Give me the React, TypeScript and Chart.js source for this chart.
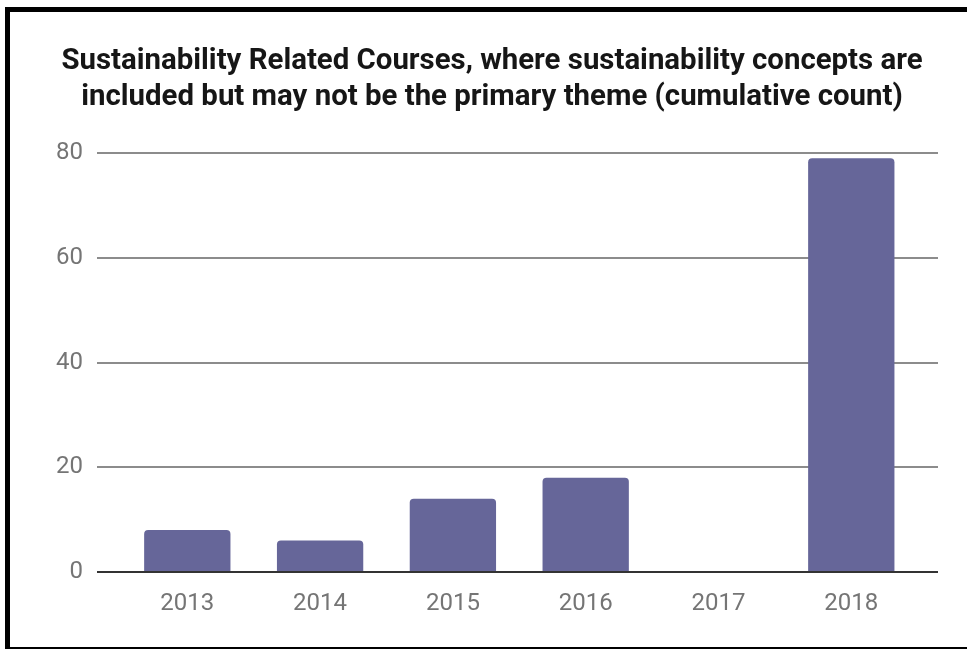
import React, { useEffect, useRef } from "react";
import { Chart, registerables } from "chart.js";

Chart.register(...registerables);

const TITLE_LINES = [
  "Sustainability Related Courses, where sustainability concepts are",
  "included but may not be the primary theme (cumulative count)",
];
const YEARS = ["2013", "2014", "2015", "2016", "2017", "2018"];
const COUNTS = [8, 6, 14, 18, 0, 79];
const Y_MIN = 0;
const Y_MAX = 80;
const Y_STEP = 20;

const BAR_COLOR = "#666699";
const GRID_COLOR = "#8c8c8c";
const ZERO_COLOR = "#333333";
const TICK_COLOR = "#757575";

// category band inset inside the gridline span (layout only)
const X_START_VALUE = -0.68;
const X_VALUE_RANGE = 6.333;

export default function App() {
  const canvasRef = useRef<HTMLCanvasElement | null>(null);

  useEffect(() => {
    if (!canvasRef.current) return;
    const chart = new Chart(canvasRef.current, {
      type: "bar",
      data: {
        labels: YEARS,
        datasets: [
          {
            data: COUNTS,
            backgroundColor: BAR_COLOR,
            borderRadius: 4,
            barPercentage: 0.65,
            categoryPercentage: 1,
          },
        ],
      },
      options: {
        responsive: false,
        animation: false,
        devicePixelRatio: 1,
        layout: { padding: { left: 46, right: 29, top: 0, bottom: 0 } },
        plugins: {
          legend: { display: false },
          tooltip: { enabled: false },
          title: {
            display: true,
            text: TITLE_LINES,
            color: "#161616",
            font: { family: "Roboto", size: 29.4, weight: "bold", lineHeight: 1.225 },
            padding: { top: 44, bottom: 37 },
          },
        },
        scales: {
          x: {
            grid: { display: false, drawTicks: false },
            border: { display: false },
            ticks: {
              color: TICK_COLOR,
              font: { family: "Roboto", size: 24 },
              padding: 18,
            },
            afterBuildTicks: (scale: any) => {
              scale._startValue = X_START_VALUE;
              scale._valueRange = X_VALUE_RANGE;
            },
            afterFit: (scale: any) => {
              scale.height = 78;
            },
          },
          y: {
            min: Y_MIN,
            max: Y_MAX,
            grid: {
              drawTicks: false,
              lineWidth: 2,
              color: (ctx: any) => (ctx.tick && ctx.tick.value === 0 ? ZERO_COLOR : GRID_COLOR),
            },
            border: { display: false },
            ticks: {
              stepSize: Y_STEP,
              color: TICK_COLOR,
              font: { family: "Roboto", size: 24 },
              padding: 14,
            },
            afterFit: (scale: any) => {
              scale.width = 51;
            },
          },
        },
      },
    });
    return () => chart.destroy();
  }, []);

  return (
    <div
      style={{
        position: "fixed",
        left: 0,
        top: 0,
        width: 967,
        height: 650,
        background: "#ffffff",
        overflow: "hidden",
      }}
    >
      <canvas
        ref={canvasRef}
        width={967}
        height={650}
        style={{ position: "absolute", left: 0, top: 0, width: 967, height: 650, display: "block" }}
      />
      <div style={{ position: "absolute", left: 5, top: 7, width: 962, height: 5, background: "#000" }} />
      <div style={{ position: "absolute", left: 5, top: 7, width: 5, height: 642, background: "#000" }} />
      <div style={{ position: "absolute", left: 5, top: 647, width: 962, height: 2, background: "#000" }} />
    </div>
  );
}
